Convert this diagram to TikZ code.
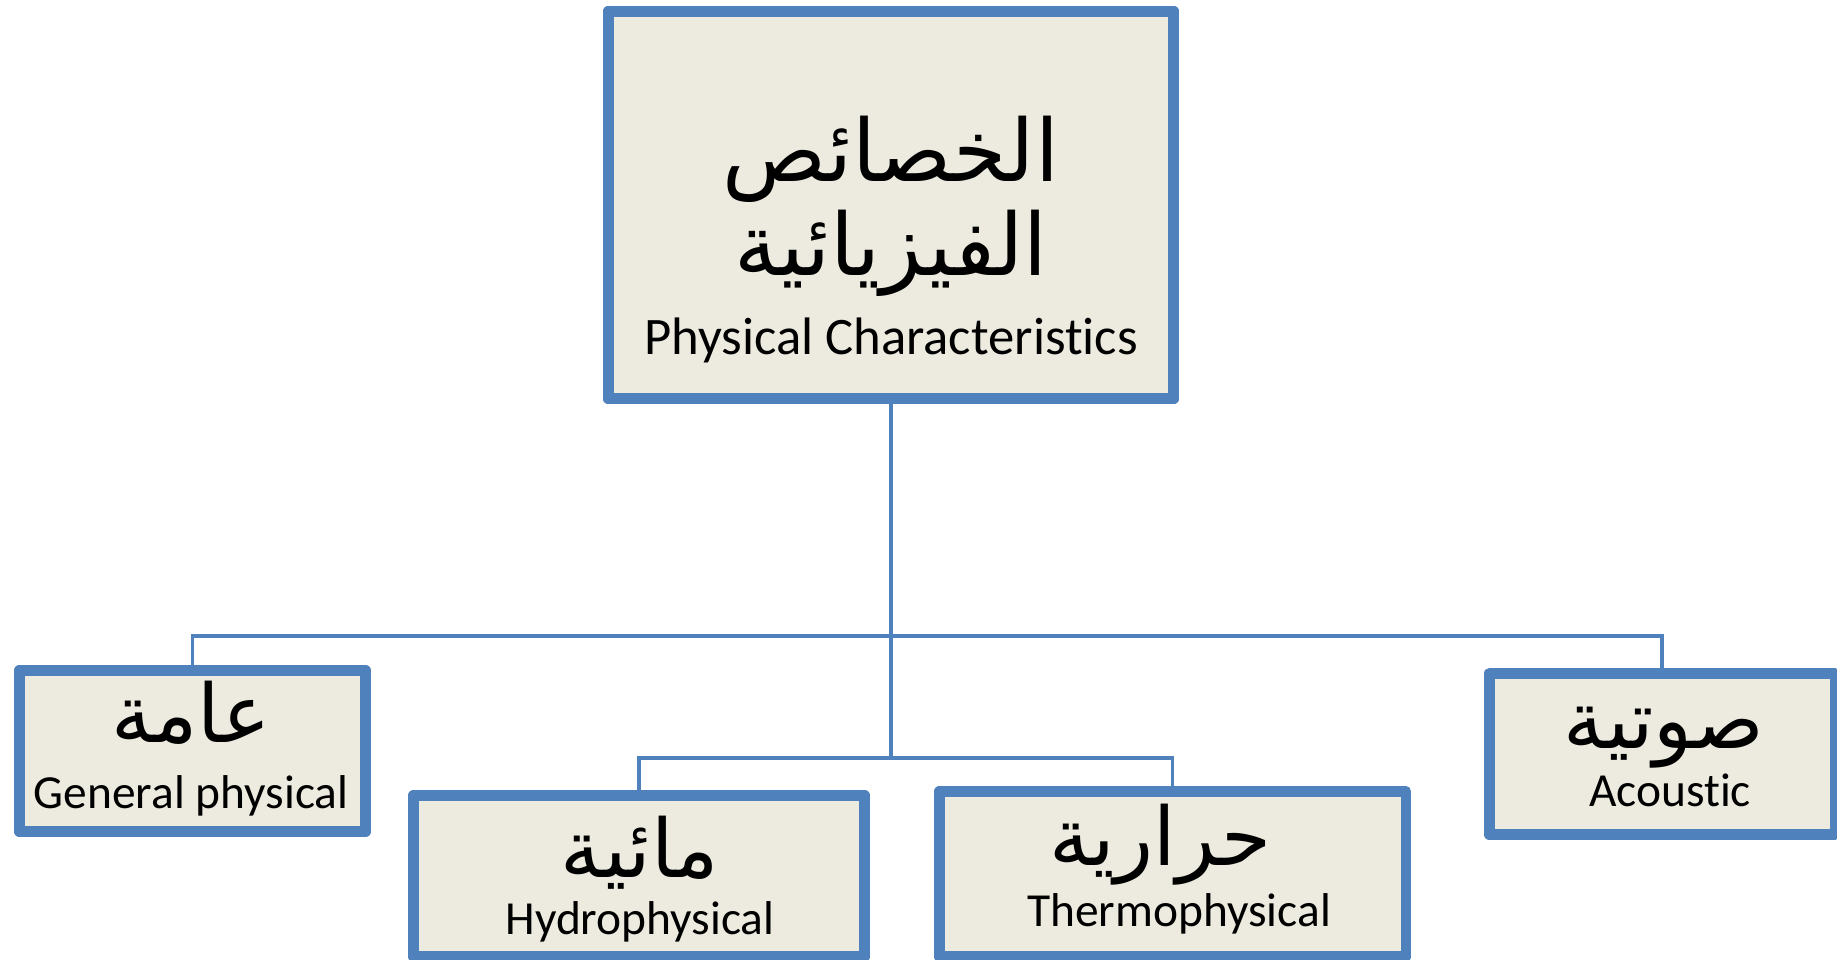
\documentclass[tikz,border=0pt]{standalone}
\usepackage{fontspec}
\setmainfont{Carlito}[Ligatures=NoCommon]
\newfontfamily\arabicfont[Script=Arabic]{DejaVu Sans}
\TeXXeTstate=1
\usetikzlibrary{positioning}

\definecolor{boxblue}{HTML}{4F81BD}
\definecolor{boxfill}{HTML}{EDEBE0}

\tikzset{
	box/.style={draw=boxblue, fill=boxfill, line width=6pt, line join=round, inner sep=0pt},
	link/.style={draw=boxblue, line width=2pt},
	entext/.style={anchor=base, font=\fontsize{27}{32}\selectfont},
	artext/.style={anchor=base, font=\arabicfont\fontsize{46}{52}\selectfont},
}

\begin{document}
\begin{tikzpicture}[x=0.2mm, y=-0.2mm]
	\useasboundingbox (0,0) rectangle (1837,960);

	% the boxes
	\node[box, minimum width=113.1mm, minimum height=77.5mm] (top) at (891,205) {};
	\node[box, minimum width=69.3mm, minimum height=32.3mm] (general) at (192.5,751) {};
	\node[box, minimum width=90.3mm, minimum height=32.3mm] (hydro) at (639,876) {};
	\node[box, minimum width=93.3mm, minimum height=33.1mm] (thermo) at (1172.5,874) {};
	\node[box, minimum width=69.1mm, minimum height=32.3mm] (acoustic) at (1662,754) {};

	% the tree
	\coordinate (upper) at (891,636);
	\coordinate (lower) at (891,758);
	\draw[link] (top) -- (lower);
	\draw[link] (general) |- (upper) -| (acoustic);
	\draw[link] (hydro) |- (lower) -| (thermo);
	\node[box, minimum width=113.1mm, minimum height=77.5mm] at (top) {};

	% texts
	\node[artext, font=\arabicfont\fontsize{49}{56}\selectfont] (topAr1) at (891,182) {\beginR الخصائص\endR};
	\node[artext, font=\arabicfont\fontsize{49}{56}\selectfont] (topAr2) at (891,276) {\beginR الفيزيائية\endR};
	\node[entext, font=\fontsize{30}{36}\selectfont] (topEn) at (891,355) {Physical Characteristics};

	\node[artext] (generalAr) at (191,742) {\beginR عامة\endR};
	\node[entext] (generalEn) at (191,808) {General physical};
	\node[artext] (hydroAr) at (640,877) {\beginR مائية\endR};
	\node[entext] (hydroEn) at (640,934) {Hydrophysical};
	\node[artext] (thermoAr) at (1160,865) {\beginR حرارية\endR};
	\node[entext] (thermoEn) at (1179,926) {Thermophysical};
	\node[artext] (acousticAr) at (1664,748) {\beginR صوتية\endR};
	\node[entext] (acousticEn) at (1670,806) {Acoustic};
\end{tikzpicture}
\end{document}
